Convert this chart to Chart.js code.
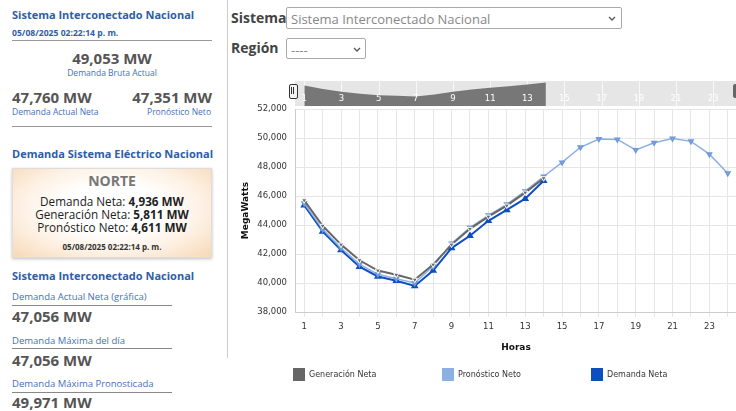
<!DOCTYPE html>
<html lang="es">
<head>
<meta charset="utf-8">
<title>Demanda SIN</title>
<script src="https://cdn.jsdelivr.net/npm/chart.js@4.4.1/dist/chart.umd.min.js"></script>
<style>
  html, body { margin: 0; padding: 0; width: 736px; height: 411px; overflow: hidden; background: #fff; font-family: "Open Sans", sans-serif; }
  .t { position: absolute; white-space: nowrap; line-height: 1; }
  .head { color: #2d5ea6; font-weight: 700; font-size: 11px; }
  .sub { color: #3f70c2; }
  .val { color: #555; font-weight: 700; font-size: 15px; }
  .rule { position: absolute; height: 1px; background: #999; }
  .box { position: absolute; left: 12px; top: 168px; width: 198px; height: 88px; border: 1px solid #ddd;
         background: radial-gradient(ellipse at 50% 45%, #fff 35%, #fdf1e4 65%, #f8d8b6 100%);
         box-shadow: 0 1px 3px rgba(0,0,0,0.25); }
  .norte { font-size: 11.7px; color: #222; }
  .sel { position: absolute; border: 1px solid #aaa; border-radius: 2px; background: #fff; color: #888; font-size: 13px; }
  .sel span { position: absolute; left: 4px; top: 2px; }
  .sel svg { position: absolute; top: 8px; }
  .lbl { position: absolute; color: #444; font-weight: 700; font-size: 14px; line-height: 1; }
  #legend { position: absolute; left: 293px; top: 368px; display: flex; font-family: "DejaVu Sans", sans-serif; font-size: 8px; color: #333; }
  #legend .item { width: 149px; display: flex; align-items: center; }
  #legend .sw { width: 12px; height: 13px; margin-right: 4px; }
</style>
</head>
<body>

<!-- panel izquierdo -->
<div class="t head" style="left:12px;top:9px">Sistema Interconectado Nacional</div>
<div class="t head" style="left:12px;top:29px;font-size:8.6px">05/08/2025 02:22:14 p. m.</div>
<div class="rule" style="left:12px;top:40px;width:200px"></div>
<div class="t val" style="left:12px;width:200px;text-align:center;top:51px">49,053 MW</div>
<div class="t sub" style="left:12px;width:200px;text-align:center;top:69px;font-size:8.5px">Demanda Bruta Actual</div>
<div class="t val" style="left:12px;top:90px">47,760 MW</div>
<div class="t val" style="left:12px;width:200px;text-align:right;top:90px">47,351 MW</div>
<div class="t sub" style="left:12px;top:108px;font-size:8.5px">Demanda Actual Neta</div>
<div class="t sub" style="left:12px;width:199px;text-align:right;top:108px;font-size:8.5px">Pronóstico Neto</div>
<div class="rule" style="left:12px;top:126px;width:200px"></div>

<div class="t head" style="left:12px;top:148px">Demanda Sistema Eléctrico Nacional</div>
<div class="box"></div>
<div class="t" style="left:12px;width:200px;text-align:center;top:174px;font-size:14px;font-weight:700;color:#777">NORTE</div>
<div class="t norte" style="left:12px;width:200px;text-align:center;top:196px">Demanda Neta: <b>4,936 MW</b></div>
<div class="t norte" style="left:12px;width:200px;text-align:center;top:209px">Generación Neta: <b>5,811 MW</b></div>
<div class="t norte" style="left:12px;width:200px;text-align:center;top:222px">Pronóstico Neto: <b>4,611 MW</b></div>
<div class="t" style="left:12px;width:200px;text-align:center;top:243px;font-size:8px;font-weight:700;color:#333">05/08/2025 02:22:14 p. m.</div>

<div class="t head" style="left:12px;top:270px">Sistema Interconectado Nacional</div>
<div class="t sub" style="left:12px;top:292px;font-size:9.5px">Demanda Actual Neta (gráfica)</div>
<div class="rule" style="left:12px;top:305px;width:160px;background:#888"></div>
<div class="t val" style="left:12px;top:309px">47,056 MW</div>
<div class="t sub" style="left:12px;top:336px;font-size:9.5px">Demanda Máxima del día</div>
<div class="rule" style="left:12px;top:348px;width:160px;background:#888"></div>
<div class="t val" style="left:12px;top:353px">47,056 MW</div>
<div class="t sub" style="left:12px;top:379px;font-size:9.5px">Demanda Máxima Pronosticada</div>
<div class="rule" style="left:12px;top:392px;width:160px;background:#888"></div>
<div class="t val" style="left:12px;top:395px">49,971 MW</div>

<div style="position:absolute;left:227px;top:0;width:1px;height:358px;background:#ccc"></div>

<!-- filtros -->
<div class="lbl" style="left:231px;top:11px">Sistema</div>
<div class="sel" style="left:286px;top:7px;width:334px;height:20px">
  <span>Sistema Interconectado Nacional</span>
  <svg style="left:321px" width="8" height="5"><path d="M1 1 L4 4 L7 1" stroke="#555" fill="none" stroke-width="1.3"/></svg>
</div>
<div class="lbl" style="left:231px;top:41px">Región</div>
<div class="sel" style="left:286px;top:38px;width:78px;height:19px">
  <span>----</span>
  <svg style="left:66px" width="8" height="5"><path d="M1 1 L4 4 L7 1" stroke="#555" fill="none" stroke-width="1.3"/></svg>
</div>

<!-- navegador + grafica -->
<canvas id="navChart" width="513" height="30" style="position:absolute;left:230px;top:78px"></canvas>
<div style="position:absolute;left:289px;top:84px;width:7px;height:13px;border:1px solid #333;border-radius:2px;background:#f2f2f2"></div>
<div style="position:absolute;left:291px;top:87px;width:1px;height:7px;background:#333"></div>
<div style="position:absolute;left:293px;top:87px;width:1px;height:7px;background:#333"></div>
<div style="position:absolute;left:733px;top:84px;width:6px;height:14px;background:#666;border-radius:2px"></div>
<canvas id="mainChart" width="513" height="262" style="position:absolute;left:230px;top:96px"></canvas>
<div id="legend"></div>

<script>
const horas = ['1','2','3','4','5','6','7','8','9','10','11','12','13','14','15','16','17','18','19','20','21','22','23','24'];

// MW por hora
const generacionNeta = [45710, 43950, 42650, 41570, 40860, 40570, 40230, 41270, 42650, 43740, 44580, 45340, 46240, 47230,
  null, null, null, null, null, null, null, null, null, null];
const pronosticoNeto = [45500, 43700, 42420, 41300, 40600, 40300, 40000, 41150, 42730, 43830, 44670, 45430, 46340, 47351,
  48320, 49365, 49930, 49910, 49180, 49680, 49971, 49775, 48890, 47570];
const demandaNeta = [45370, 43560, 42270, 41130, 40450, 40160, 39800, 40860, 42410, 43260, 44290, 45040, 45820, 47056,
  null, null, null, null, null, null, null, null, null, null];

const yMin = 38000, yMax = 52000, yStep = 2000;
const navMin = 35500, navMax = 48000;

const tickFont = { family: 'DejaVu Sans', size: 8.5 };
const titleFont = { family: 'DejaVu Sans', size: 9, weight: 'bold' };

// navegador de arriba
const navDecor = {
  id: 'navDecor',
  beforeDatasetsDraw(chart) {
    const { ctx, chartArea: a, scales: { x } } = chart;
    ctx.save();
    ctx.fillStyle = '#e6e6e6';
    ctx.fillRect(a.left, a.top, a.right - a.left, a.bottom - a.top);
    ctx.strokeStyle = 'rgba(255,255,255,0.7)';
    ctx.lineWidth = 1;
    horas.forEach((h, i) => {
      if (i % 2) return;
      const px = Math.round(x.getPixelForValue(i)) + 0.5;
      ctx.beginPath();
      ctx.moveTo(px, a.top);
      ctx.lineTo(px, a.bottom);
      ctx.stroke();
    });
    ctx.restore();
  },
  afterDatasetsDraw(chart) {
    const { ctx, chartArea: a, scales: { x } } = chart;
    ctx.save();
    ctx.font = '8.5px "DejaVu Sans"';
    ctx.fillStyle = '#fff';
    ctx.textAlign = 'center';
    ctx.textBaseline = 'middle';
    horas.forEach((h, i) => {
      if (i % 2) return;
      ctx.fillText(h, x.getPixelForValue(i), a.bottom - 7);
    });
    ctx.restore();
  }
};

new Chart(document.getElementById('navChart'), {
  type: 'line',
  data: {
    labels: horas,
    datasets: [{
      data: generacionNeta,
      borderWidth: 0,
      pointRadius: 0,
      backgroundColor: '#777',
      fill: 'start'
    }]
  },
  options: {
    responsive: false,
    animation: false,
    layout: { padding: { left: 65, right: 2, top: 3, bottom: 2 } },
    plugins: { legend: { display: false }, tooltip: { enabled: false } },
    scales: {
      x: { type: 'category', offset: true, display: false },
      y: { min: navMin, max: navMax, display: false }
    }
  },
  plugins: [navDecor]
});

const chart = new Chart(document.getElementById('mainChart'), {
  type: 'line',
  data: {
    labels: horas,
    datasets: [
      {
        label: 'Generación Neta',
        data: generacionNeta,
        borderColor: '#666666',
        backgroundColor: '#666666',
        borderWidth: 2,
        pointStyle: 'triangle',
        pointRotation: 180,
        pointRadius: 3,
        pointBorderColor: '#fff',
        pointBorderWidth: 1
      },
      {
        label: 'Pronóstico Neto',
        data: pronosticoNeto,
        borderColor: '#8db0e2',
        backgroundColor: '#8db0e2',
        borderWidth: 1.5,
        pointStyle: 'triangle',
        pointRotation: 180,
        pointRadius: 2.5,
        pointBorderColor: '#6f98d8'
      },
      {
        label: 'Demanda Neta',
        data: demandaNeta,
        borderColor: '#0d4fbf',
        backgroundColor: '#0d4fbf',
        borderWidth: 2,
        pointStyle: 'triangle',
        pointRadius: 2.5
      }
    ]
  },
  options: {
    responsive: false,
    animation: false,
    layout: { padding: { top: 10, right: 2, bottom: 0, left: 0 } },
    plugins: { legend: { display: false }, tooltip: { enabled: false } },
    scales: {
      x: {
        type: 'category',
        offset: true,
        grid: { color: '#e6e6e6', tickLength: 5, offset: false },
        border: { color: '#ccc' },
        ticks: {
          autoSkip: false,
          maxRotation: 0,
          color: '#333',
          font: tickFont,
          padding: 5,
          callback: (v, i) => (i % 2 === 0 ? horas[i] : '')
        },
        title: { display: true, text: 'Horas', color: '#111', font: titleFont, padding: { top: 2, bottom: 5 } },
        afterFit: s => { s.height = 46; }
      },
      y: {
        min: yMin,
        max: yMax,
        grid: { color: '#e6e6e6', drawTicks: false },
        border: { color: '#ccc' },
        ticks: { stepSize: yStep, color: '#333', font: tickFont, padding: 8 },
        title: { display: true, text: 'MegaWatts', color: '#111', font: titleFont, padding: { top: 10, bottom: 0 } },
        afterFit: s => { s.width = 65; }
      }
    }
  }
});

// leyenda en html
const legend = document.getElementById('legend');
chart.data.datasets.forEach(ds => {
  const item = document.createElement('div');
  item.className = 'item';
  const sw = document.createElement('span');
  sw.className = 'sw';
  sw.style.background = ds.borderColor;
  const txt = document.createElement('span');
  txt.textContent = ds.label;
  item.appendChild(sw);
  item.appendChild(txt);
  legend.appendChild(item);
});
</script>
</body>
</html>
